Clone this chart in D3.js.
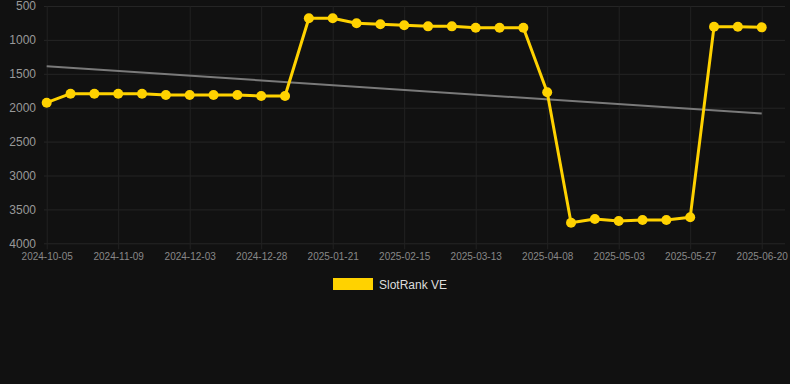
<!DOCTYPE html>
<html>
<head>
<meta charset="utf-8">
<script src="https://cdn.jsdelivr.net/npm/d3@7"></script>
<style>
  html, body { margin: 0; padding: 0; background: #111111; }
  svg { display: block; font-family: Arial, "Liberation Sans", sans-serif; }
</style>
</head>
<body>
<script>
// categories (only every 3rd label is shown on the axis)
var dates = [
    "2024-10-05", "2024-10-17", "2024-10-29", "2024-11-09", "2024-11-17", "2024-11-25",
    "2024-12-03", "2024-12-11", "2024-12-19", "2024-12-28", "2025-01-05", "2025-01-13",
    "2025-01-21", "2025-01-29", "2025-02-06", "2025-02-15", "2025-02-23", "2025-03-04",
    "2025-03-13", "2025-03-21", "2025-03-30", "2025-04-08", "2025-04-16", "2025-04-24",
    "2025-05-03", "2025-05-11", "2025-05-19", "2025-05-27", "2025-06-04", "2025-06-12",
    "2025-06-20"
];
// rank values (lower is better, axis is reversed)
var rank = [
    1926, 1793, 1793, 1793, 1793, 1813, 1813, 1813, 1813, 1827, 1827,
    681, 681, 755, 770, 785, 800, 800, 820, 820, 820,
    1773, 3696, 3642, 3671, 3656, 3656, 3617,
    805, 805, 815
];
var yTicks = [500, 1000, 1500, 2000, 2500, 3000, 3500, 4000];
var seriesName = "SlotRank VE";

var width = 790, height = 384;
var plotLeft = 44, plotRight = 785, plotTop = 6, plotBottom = 243.3;

var svg = d3.select("body").append("svg")
    .attr("width", width)
    .attr("height", height);

var x = d3.scalePoint()
    .domain(dates)
    .range([46.7, 761.7]);

var y = d3.scaleLinear()
    .domain([500, 4000])
    .range([plotTop, plotBottom]);

var shownDates = dates.filter(function (d, i) { return i % 3 === 0; });

// horizontal gridlines + y labels
var yAxis = d3.axisLeft(y)
    .tickValues(yTicks)
    .tickFormat(d3.format("d"))
    .tickSize(-(plotRight - plotLeft))
    .tickPadding(8);
var gy = svg.append("g")
    .attr("transform", "translate(" + plotLeft + ",0)")
    .call(yAxis);
gy.select(".domain").remove();
gy.selectAll("line").attr("stroke", "#252525");
gy.selectAll("text")
    .attr("fill", "#999999")
    .style("font-size", "12px");

// vertical gridlines + x labels
var xAxis = d3.axisBottom(x)
    .tickValues(shownDates)
    .tickSize(-(plotBottom - plotTop))
    .tickPadding(10);
var gx = svg.append("g")
    .attr("transform", "translate(0," + plotBottom + ")")
    .call(xAxis);
gx.select(".domain").remove();
gx.selectAll("line")
    .attr("stroke", "#222222")
    .attr("y2", 0)
    .attr("y1", 6)
    .clone()
    .attr("y1", 0)
    .attr("y2", -(plotBottom - plotTop));
gx.selectAll("text")
    .attr("fill", "#888888")
    .attr("dy", "0.71em")
    .attr("y", 10)
    .style("font-size", "10px");

// linear regression trend
var n = rank.length;
var mx = d3.mean(rank, function (d, i) { return i; });
var my = d3.mean(rank);
var sxy = 0, sxx = 0;
rank.forEach(function (d, i) {
    sxy += (i - mx) * (d - my);
    sxx += (i - mx) * (i - mx);
});
var slope = sxy / sxx;
var trend = [0, n - 1].map(function (i) {
    return { date: dates[i], value: my + slope * (i - mx) };
});

svg.append("path")
    .datum(trend)
    .attr("fill", "none")
    .attr("stroke", "#7a7a7a")
    .attr("stroke-width", 2)
    .attr("d", d3.line()
        .x(function (d) { return x(d.date); })
        .y(function (d) { return y(d.value); }));

// main series
var valueline = d3.line()
    .x(function (d, i) { return x(dates[i]); })
    .y(function (d) { return y(d); });

svg.append("path")
    .datum(rank)
    .attr("fill", "none")
    .attr("stroke", "#FFD200")
    .attr("stroke-width", 3)
    .attr("stroke-linejoin", "round")
    .attr("d", valueline);

svg.append("g")
    .selectAll("circle")
    .data(rank)
    .join("circle")
    .attr("cx", function (d, i) { return x(dates[i]); })
    .attr("cy", function (d) { return y(d); })
    .attr("r", 5)
    .attr("fill", "#FFD200");

// legend
var legend = svg.append("g")
    .attr("transform", "translate(333,278)");
legend.append("rect")
    .attr("width", 40)
    .attr("height", 12)
    .attr("fill", "#FFD200");
legend.append("text")
    .attr("x", 46)
    .attr("y", 10.5)
    .attr("fill", "#dddddd")
    .style("font-size", "12px")
    .text(seriesName);
</script>
</body>
</html>
